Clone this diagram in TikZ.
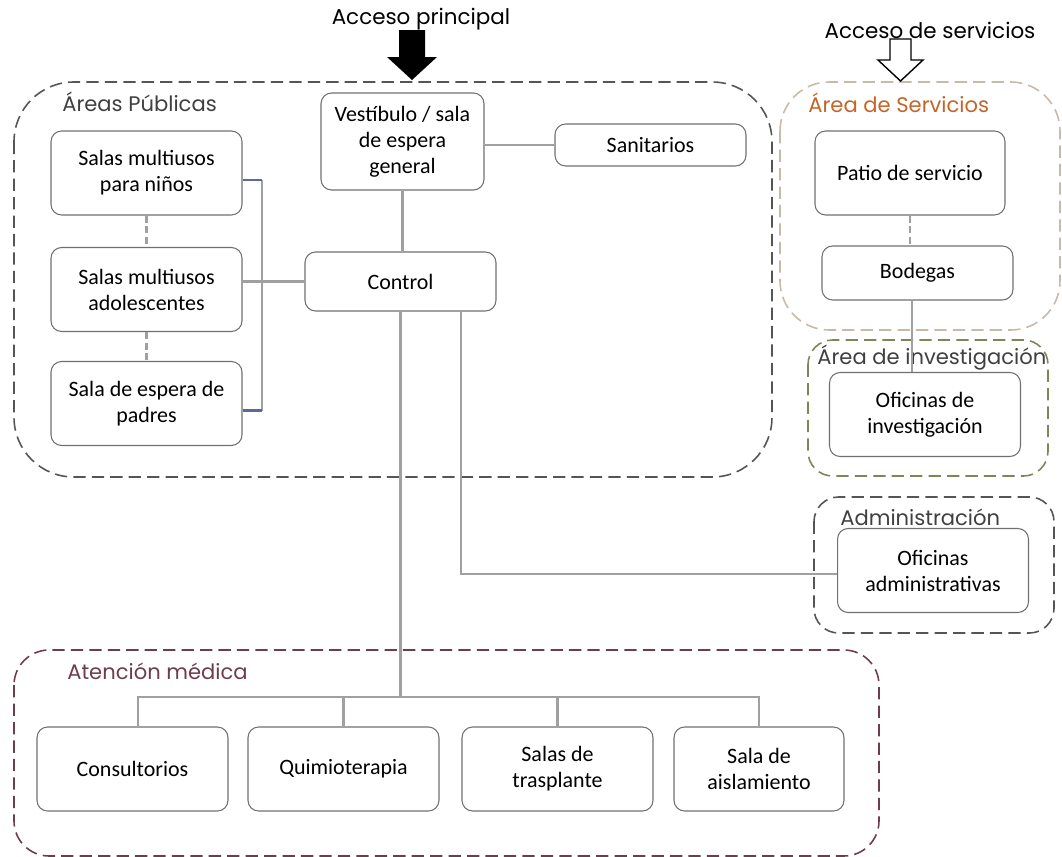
\documentclass[tikz,border=0pt]{standalone}
\usepackage{fontspec}
\setmainfont{Carlito}
\newfontfamily\labelfont{Poppins}

\definecolor{boxgray}{RGB}{112,112,112}
\definecolor{linkgray}{RGB}{160,160,160}
\definecolor{linkblue}{RGB}{95,105,150}
\definecolor{pubgray}{RGB}{85,85,85}
\definecolor{labelgray}{RGB}{64,64,64}
\definecolor{servtan}{RGB}{200,186,168}
\definecolor{servorange}{RGB}{197,100,40}
\definecolor{invgreen}{RGB}{128,132,88}
\definecolor{medred}{RGB}{110,60,78}

\tikzset{
  room/.style={draw=boxgray, line width=0.6pt, rounded corners=6pt, align=center,
    minimum width=3.82cm, minimum height=1.68cm, inner sep=2pt,
    font=\fontsize{12.5}{14.8}\selectfont},
  zone/.style={line width=0.9pt, dash pattern=on 7pt off 3.5pt},
  zonelabel/.style={anchor=west, inner sep=0pt, font=\labelfont\fontsize{12}{14}\selectfont},
  accesslabel/.style={font=\labelfont\fontsize{12.2}{14}\selectfont},
  link/.style={draw=linkgray, line width=1.4pt},
  bluelink/.style={draw=linkblue, line width=1.4pt},
  dashlink/.style={draw=linkgray, line width=1.4pt, dash pattern=on 4pt off 2pt}
}

\begin{document}
\begin{tikzpicture}[x=0.02cm, y=-0.02cm]
  \useasboundingbox (0,0) rectangle (1062,856);

  % zones
  \draw[zone, draw=pubgray, rounded corners=34pt] (14,82) rectangle (772,477);
  \draw[zone, draw=servtan, rounded corners=28pt] (780,82) rectangle (1060,330);
  \draw[zone, draw=invgreen, rounded corners=14pt] (808,340) rectangle (1048,476);
  \draw[zone, draw=pubgray, rounded corners=14pt] (814,497) rectangle (1054,633);
  \draw[zone, draw=medred, rounded corners=20pt] (14,650) rectangle (879,856);

  \node[zonelabel, text=labelgray] (lpub) at (62,102) {Áreas Públicas};
  \node[zonelabel, text=servorange] (lserv) at (808,103) {Área de Servicios};
  \node[zonelabel, text=labelgray] (linv) at (817,358) {Área de investigación};
  \node[zonelabel, text=labelgray] (ladm) at (840,517) {Administración};
  \node[zonelabel, text=medred] (lmed) at (67,671) {Atención médica};

  % accesses
  \node[accesslabel] (accp) at (421,19) {Acceso principal};
  \node[accesslabel] (accs) at (930,30) {Acceso de servicios};
  \fill[black] (399,30) -- (425,30) -- (425,57) -- (437,57) -- (412,80)
    -- (387,57) -- (399,57) -- cycle;
  \draw[black, line width=0.8pt, fill=white] (890,39) -- (911,39) -- (911,60) -- (923,60)
    -- (900.5,81) -- (878,60) -- (890,60) -- cycle;

  % public areas
  \node[room, minimum width=3.26cm, minimum height=1.94cm] (vest) at (402.5,141.5) {Vestíbulo / sala\\de espera\\general};
  \node[room, minimum height=0.84cm] (sani) at (650.5,145) {Sanitarios};
  \node[room] (ninos) at (146.5,173) {Salas multiusos\\para niños};
  \node[room] (ado) at (146.5,289.5) {Salas multiusos\\adolescentes};
  \node[room] (padres) at (146.5,403.5) {Sala de espera de\\padres};
  \node[room, minimum height=1.18cm] (control) at (400.5,281.5) {Control};

  % services
  \node[room, minimum width=3.8cm] (patio) at (910,173) {Patio de servicio};
  \node[room, minimum height=1.08cm] (bodegas) at (917.5,273) {Bodegas};
  \node[room] (ofinv) at (925,414.5) {Oficinas de\\investigación};
  \node[room] (ofadm) at (933,570.5) {Oficinas\\administrativas};

  % medical care
  \node[room] (consul) at (132.5,769) {Consultorios};
  \node[room] (quimio) at (343.5,769) {Quimioterapia};
  \node[room] (trasp) at (557.5,769) {Salas de\\trasplante};
  \node[room, minimum width=3.4cm] (aisla) at (759,769) {Sala de\\aislamiento};

  % connectors
  \coordinate (brk) at (262,282);
  \coordinate (bus) at (400.5,697);
  \draw[link] (vest.south) -- (vest.south |- control.north);
  \draw[link] (sani.west) -- (sani.west -| vest.east);
  \draw[link] (control.west) -- (control.west -| ado.east);
  \draw[link] ([yshift=-4pt]ninos.east -| brk) -- ([yshift=-4pt]padres.east -| brk);
  \draw[bluelink] ([yshift=-4pt]ninos.east) -- ([yshift=-4pt]ninos.east -| brk);
  \draw[bluelink] ([yshift=-4pt]padres.east) -- ([yshift=-4pt]padres.east -| brk);
  \draw[dashlink] (ninos.south) -- (ado.north);
  \draw[dashlink] (ado.south) -- (padres.north);
  \draw[dashlink] (patio.south) -- (patio.south |- bodegas.north);
  \draw[link] ([xshift=-0.11cm]bodegas.south) -- ([xshift=-0.11cm]bodegas.south |- ofinv.north);
  \draw[link] ([xshift=1.21cm]control.south) |- ([yshift=-2pt]ofadm.west);
  \draw[link] (control.south) -- (bus);
  \draw[link] ([xshift=0.11cm]consul.north) |- (bus) -| (aisla.north);
  \draw[link] (quimio.north) -- (quimio.north |- bus);
  \draw[link] (trasp.north) -- (trasp.north |- bus);
\end{tikzpicture}
\end{document}
